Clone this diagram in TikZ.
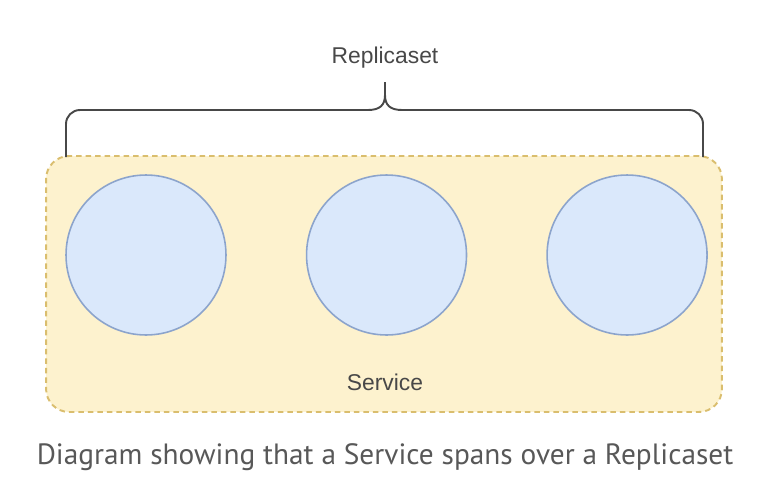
\documentclass[tikz,border=0pt]{standalone}
\usepackage{fontspec}
\setmainfont{Liberation Sans}
\newfontfamily\captionfont{PT Sans}
\usepackage{tikz}
\usetikzlibrary{positioning}
\definecolor{SvcFill}{RGB}{253,242,206}
\definecolor{SvcDraw}{RGB}{218,190,110}
\definecolor{PodFill}{RGB}{218,232,251}
\definecolor{PodDraw}{RGB}{140,164,204}
\definecolor{LabelGray}{RGB}{72,72,72}
\definecolor{CaptionGray}{RGB}{88,88,88}
\begin{document}
\begin{tikzpicture}[
      x=0.02cm, y=-0.02cm,
      node distance=1.58cm,
      svc/.style={rectangle, draw=SvcDraw, fill=SvcFill, line width=1.1pt, dash pattern=on 0.11cm off 0.08cm, rounded corners=0.46cm, minimum width=13.52cm, minimum height=5.12cm},
      pod/.style={circle, draw=PodDraw, fill=PodFill, line width=0.9pt, minimum size=3.2cm, inner sep=0pt},
      tag/.style={font=\fontsize{13}{15}\selectfont, text=LabelGray},
      brace/.style={draw=LabelGray, line width=1.1pt}
    ]
      \useasboundingbox (0,0) rectangle (768,501);

      \node[svc] (service) at (384,284) {};
      \node[pod] (pod1) at (146,255) {};
      \node[pod, right=of pod1] (pod2) {};
      \node[pod, right=of pod2] (pod3) {};
      \node[tag] (svclabel) at (385,382) {Service};

      % brace over the replicaset
      \node[tag] (rslabel) at (385,58) {Replicaset};
      \draw[brace, rounded corners=0.28cm] (66,157) -- (66,110) -- (368,110);
      \draw[brace] (368,110) .. controls (380,110) and (385,105) .. (385,95) -- (385,82);
      \draw[brace] (385,95) .. controls (385,105) and (390,110) .. (402,110);
      \draw[brace, rounded corners=0.28cm] (402,110) -- (703,110) -- (703,157);

      \node[font=\captionfont\fontsize{16.7}{19}\selectfont, text=CaptionGray] (caption) at (385,457) {Diagram showing that a Service spans over a Replicaset};
    \end{tikzpicture}
\end{document}
